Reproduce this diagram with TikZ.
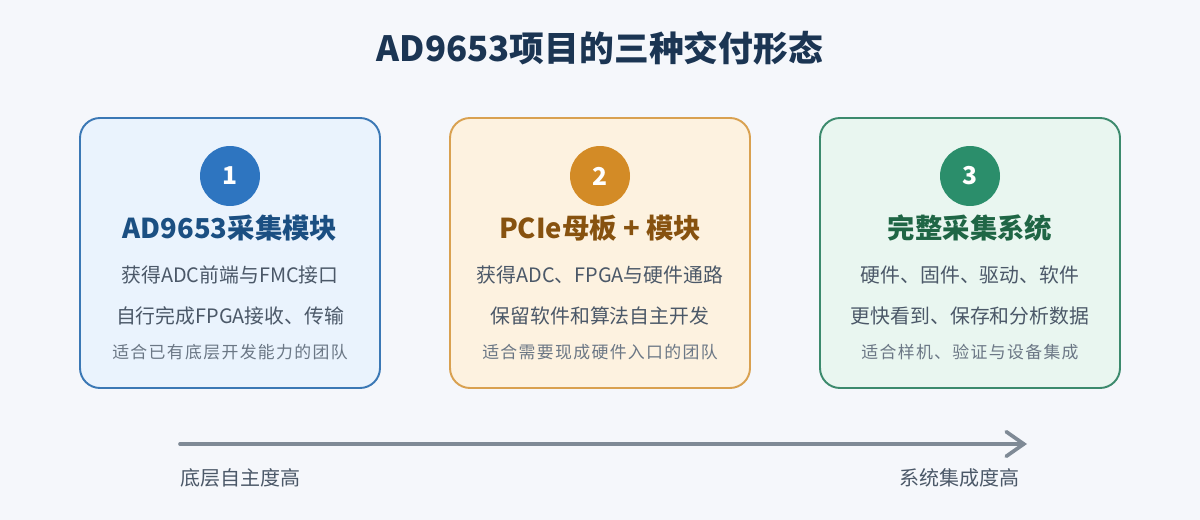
\documentclass[tikz,border=0pt]{standalone}
\usepackage{fontspec}
\setmainfont{Noto Sans CJK SC}
\usepackage{xcolor}
\usetikzlibrary{arrows.meta}

\definecolor{PageBg}{HTML}{F5F7FB}
\definecolor{TitleInk}{HTML}{1B3553}
\definecolor{BodyInk}{HTML}{4B5868}
\definecolor{NoteInk}{HTML}{6B7785}
\definecolor{AxisInk}{HTML}{7F8A96}
\definecolor{BlueFill}{HTML}{EAF3FD}
\definecolor{BlueLine}{HTML}{3B78B5}
\definecolor{BlueDot}{HTML}{2E75C0}
\definecolor{BlueHead}{HTML}{1B4F82}
\definecolor{GoldFill}{HTML}{FDF2E0}
\definecolor{GoldLine}{HTML}{D9A150}
\definecolor{GoldDot}{HTML}{D38B26}
\definecolor{GoldHead}{HTML}{87520F}
\definecolor{MintFill}{HTML}{E9F6F0}
\definecolor{MintLine}{HTML}{3C8A6D}
\definecolor{MintDot}{HTML}{2B8E6B}
\definecolor{MintHead}{HTML}{1F6645}

\begin{document}
\begin{tikzpicture}[x=0.02cm, y=-0.02cm,
    card/.style={rounded corners=0.4cm, line width=1.1pt},
    badge/.style={circle, minimum size=1.2cm, inner sep=0pt, text=white,
      font=\bfseries\fontsize{14}{14}\selectfont},
    heading/.style={font=\bfseries\fontsize{15.6}{16}\selectfont},
    bodytext/.style={text=BodyInk, font=\fontsize{11.3}{12}\selectfont},
    notetext/.style={text=NoteInk, font=\fontsize{9.6}{10}\selectfont\addfontfeature{LetterSpace=8}}]
    \fill [PageBg] (0, 0) rectangle (1200, 520);
    \useasboundingbox (0, 0) rectangle (1200, 520);
    \node [text=TitleInk, font=\bfseries\fontsize{19.8}{20}\selectfont] (title) at (600, 48)
      {AD9653项目的三种交付形态};
    \begin{scope} % Module only
        \draw [card, draw=BlueLine, fill=BlueFill] (80, 118) rectangle (380, 388);
        \node [badge, fill=BlueDot] (badgeA) at (230, 176) {1};
        \node [heading, text=BlueHead] (headA) at (230, 228) {AD9653采集模块};
        \node [bodytext] (lineAa) at (230, 275) {获得ADC前端与FMC接口};
        \node [bodytext] (lineAb) at (230, 316) {自行完成FPGA接收、传输};
        \node [notetext] (noteA) at (230, 352) {适合已有底层开发能力的团队};
    \end{scope}
    \begin{scope}[shift={(370, 0)}] % Carrier board plus module
        \draw [card, draw=GoldLine, fill=GoldFill] (80, 118) rectangle (380, 388);
        \node [badge, fill=GoldDot] (badgeB) at (230, 176) {2};
        \node [heading, text=GoldHead] (headB) at (230, 228) {PCIe母板 + 模块};
        \node [bodytext] (lineBa) at (230, 275) {获得ADC、FPGA与硬件通路};
        \node [bodytext] (lineBb) at (230, 316) {保留软件和算法自主开发};
        \node [notetext] (noteB) at (230, 352) {适合需要现成硬件入口的团队};
    \end{scope}
    \begin{scope}[shift={(740, 0)}] % Complete system
        \draw [card, draw=MintLine, fill=MintFill] (80, 118) rectangle (380, 388);
        \node [badge, fill=MintDot] (badgeC) at (230, 176) {3};
        \node [heading, text=MintHead] (headC) at (230, 228) {完整采集系统};
        \node [bodytext] (lineCa) at (230, 275) {硬件、固件、驱动、软件};
        \node [bodytext] (lineCb) at (230, 316) {更快看到、保存和分析数据};
        \node [notetext] (noteC) at (230, 352) {适合样机、验证与设备集成};
    \end{scope}
    % axis
    \coordinate (low) at (180, 444);
    \coordinate (high) at (1027, 444);
    \draw [AxisInk, line width=2.1pt, line cap=round,
      -{Straight Barb[length=10pt, width=14pt, line cap=round]}] (low) -- (high);
    \node [anchor=west, text=BodyInk, font=\fontsize{11.4}{12}\selectfont, inner sep=0pt]
      (lowlabel) at (180, 478) {底层自主度高};
    \node [anchor=east, text=BodyInk, font=\fontsize{11.4}{12}\selectfont, inner sep=0pt]
      (highlabel) at (1020, 478) {系统集成度高};
\end{tikzpicture}
\end{document}
